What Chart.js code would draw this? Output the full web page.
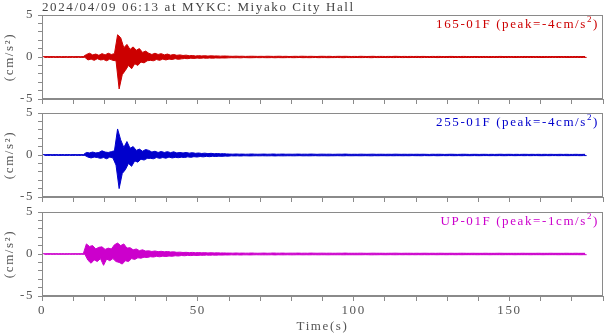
<!DOCTYPE html>
<html><head><meta charset="utf-8">
<script src="https://cdn.jsdelivr.net/npm/chart.js@4"></script>
<style>
html,body{margin:0;padding:0;background:#fff;width:605px;height:334px;overflow:hidden}
canvas{position:absolute;left:0}
</style></head><body>
<canvas id="c0" width="605" height="114" style="top:0px"></canvas>
<canvas id="c1" width="605" height="114" style="top:98px"></canvas>
<canvas id="c2" width="605" height="137" style="top:197px"></canvas>
<script>
// ---- text / categories ----
const TITLE = '2024/04/09 06:13 at MYKC: Miyako City Hall';
const channels = ['165-01F', '255-01F', 'UP-01F'];
const peaks = [-4, -4, -1];
const yAxisTitle = '(cm/s\u00B2)';
const xAxisTitle = 'Time(s)';
const xTickValues = [0,10,20,30,40,50,60,70,80,90,100,110,120,130,140,150,160,170,180];
const xTickLabelled = [0, 50, 100, 150];
const yTickValues = [-5,-4,-3,-2,-1,0,1,2,3,4,5];
const yTickLabelled = [-5, 0, 5];

// ---- per-second envelope (max / min) of each trace, t = 0..174 s ----
const redUp = [0.04,0.05,0.04,0.05,0.04,0.05,0.04,0.05,0.04,0.05,0.04,0.05,0.04,0.05,
 0.30,0.45,0.25,0.35,0.20,0.40,0.25,0.45,0.30,0.40,
 2.65,2.30,1.10,1.50,0.90,1.20,0.80,1.00,0.55,0.70,
 0.45,0.30,0.45,0.30,0.40,0.25,0.35,0.22,0.30,0.20,
 0.25,0.18,0.22,0.15,0.18,0.12,0.16,0.13,0.15,0.11,0.14,0.12,0.13,0.10,0.12,0.11,
 0.09,0.08,0.10,0.08,0.09,0.07,0.08,0.09,0.08,0.07,
 0.08,0.07,0.09,0.08,0.07,0.08,0.09,0.07,0.08,0.06,
 0.07,0.08,0.07,0.09,0.08,0.07,0.08,0.07,0.06,0.08,
 0.08,0.07,0.08,0.06,0.07,0.08,0.07,0.08,0.07,0.06,
 0.07,0.06,0.08,0.07,0.06,0.07,0.08,0.06,0.07,0.07,
 0.06,0.07,0.06,0.08,0.07,0.06,0.07,0.06,0.07,0.06,
 0.07,0.06,0.07,0.06,0.05,0.07,0.06,0.07,0.06,0.05,
 0.06,0.07,0.06,0.05,0.06,0.07,0.06,0.05,0.06,0.06,
 0.05,0.06,0.06,0.05,0.06,0.05,0.06,0.07,0.05,0.06,
 0.06,0.05,0.06,0.05,0.06,0.06,0.05,0.06,0.05,0.06,
 0.05,0.06,0.05,0.06,0.05,0.05,0.06,0.05,0.06,0.05,
 0.05,0.06,0.05,0.05,0.06];
const redLo = [-0.05,-0.04,-0.05,-0.04,-0.05,-0.04,-0.05,-0.04,-0.05,-0.04,-0.05,-0.04,-0.05,-0.04,
 -0.35,-0.25,-0.40,-0.20,-0.35,-0.30,-0.45,-0.25,-0.40,-0.45,
 -3.80,-2.10,-1.60,-1.00,-1.40,-0.80,-1.00,-0.60,-0.70,-0.45,
 -0.40,-0.45,-0.30,-0.40,-0.25,-0.35,-0.25,-0.30,-0.20,-0.28,
 -0.22,-0.18,-0.20,-0.14,-0.17,-0.13,-0.16,-0.12,-0.15,-0.12,-0.14,-0.11,-0.13,-0.11,-0.12,-0.10,
 -0.08,-0.09,-0.08,-0.10,-0.07,-0.08,-0.09,-0.08,-0.07,-0.08,
 -0.07,-0.08,-0.08,-0.07,-0.09,-0.07,-0.08,-0.08,-0.07,-0.07,
 -0.08,-0.07,-0.06,-0.08,-0.07,-0.08,-0.07,-0.06,-0.08,-0.07,
 -0.07,-0.08,-0.07,-0.07,-0.06,-0.07,-0.08,-0.06,-0.07,-0.07,
 -0.06,-0.07,-0.07,-0.06,-0.07,-0.08,-0.06,-0.07,-0.06,-0.06,
 -0.07,-0.06,-0.07,-0.06,-0.06,-0.07,-0.06,-0.07,-0.05,-0.06,
 -0.06,-0.07,-0.05,-0.06,-0.06,-0.05,-0.07,-0.06,-0.05,-0.06,
 -0.05,-0.06,-0.06,-0.05,-0.07,-0.05,-0.06,-0.06,-0.05,-0.06,
 -0.06,-0.05,-0.05,-0.06,-0.05,-0.06,-0.05,-0.06,-0.06,-0.05,
 -0.05,-0.06,-0.05,-0.05,-0.06,-0.05,-0.06,-0.05,-0.05,-0.06,
 -0.06,-0.05,-0.06,-0.05,-0.05,-0.06,-0.05,-0.05,-0.06,-0.05,
 -0.05,-0.05,-0.06,-0.05,-0.05];

const blueUp = [0.05,0.04,0.05,0.04,0.05,0.04,0.05,0.04,0.05,0.04,0.05,0.04,0.05,0.04,
 0.30,0.25,0.35,0.25,0.30,0.50,0.35,0.30,0.40,0.50,
 3.10,1.80,0.90,1.60,0.80,1.00,0.55,0.70,0.45,0.65,
 0.55,0.35,0.45,0.30,0.42,0.30,0.40,0.28,0.38,0.25,
 0.30,0.24,0.30,0.22,0.28,0.20,0.24,0.18,0.22,0.16,0.20,0.15,0.18,0.14,0.16,0.13,
 0.11,0.10,0.12,0.10,0.11,0.09,0.10,0.12,0.10,0.09,
 0.10,0.11,0.09,0.10,0.12,0.09,0.10,0.11,0.09,0.10,
 0.09,0.10,0.11,0.09,0.10,0.09,0.11,0.10,0.08,0.10,
 0.10,0.09,0.10,0.08,0.09,0.10,0.09,0.11,0.09,0.08,
 0.09,0.08,0.10,0.09,0.08,0.09,0.10,0.08,0.09,0.09,
 0.08,0.09,0.08,0.10,0.09,0.08,0.09,0.08,0.09,0.08,
 0.09,0.08,0.09,0.08,0.07,0.09,0.08,0.09,0.08,0.07,
 0.08,0.09,0.08,0.07,0.08,0.09,0.08,0.07,0.08,0.08,
 0.07,0.08,0.08,0.07,0.08,0.07,0.08,0.09,0.07,0.08,
 0.08,0.07,0.08,0.07,0.08,0.08,0.07,0.08,0.07,0.08,
 0.07,0.08,0.07,0.08,0.07,0.07,0.08,0.07,0.08,0.07,
 0.07,0.08,0.07,0.07,0.08];
const blueLo = [-0.04,-0.05,-0.04,-0.05,-0.04,-0.05,-0.04,-0.05,-0.04,-0.05,-0.04,-0.05,-0.04,-0.05,
 -0.25,-0.35,-0.25,-0.30,-0.40,-0.30,-0.45,-0.25,-0.35,-1.20,
 -4.00,-2.20,-1.75,-1.00,-1.35,-0.70,-0.85,-0.50,-0.60,-0.40,
 -0.40,-0.45,-0.30,-0.40,-0.30,-0.38,-0.25,-0.35,-0.28,-0.32,
 -0.26,-0.30,-0.22,-0.28,-0.20,-0.24,-0.18,-0.22,-0.16,-0.20,-0.15,-0.18,-0.14,-0.16,-0.13,-0.14,
 -0.10,-0.11,-0.10,-0.12,-0.09,-0.10,-0.11,-0.10,-0.09,-0.10,
 -0.09,-0.10,-0.10,-0.09,-0.11,-0.09,-0.10,-0.10,-0.09,-0.09,
 -0.10,-0.09,-0.08,-0.10,-0.09,-0.10,-0.09,-0.08,-0.10,-0.09,
 -0.09,-0.10,-0.09,-0.09,-0.08,-0.09,-0.10,-0.08,-0.09,-0.09,
 -0.08,-0.09,-0.09,-0.08,-0.09,-0.10,-0.08,-0.09,-0.08,-0.08,
 -0.09,-0.08,-0.09,-0.08,-0.08,-0.09,-0.08,-0.09,-0.07,-0.08,
 -0.08,-0.09,-0.07,-0.08,-0.08,-0.07,-0.09,-0.08,-0.07,-0.08,
 -0.07,-0.08,-0.08,-0.07,-0.09,-0.07,-0.08,-0.08,-0.07,-0.08,
 -0.08,-0.07,-0.07,-0.08,-0.07,-0.08,-0.07,-0.08,-0.08,-0.07,
 -0.07,-0.08,-0.07,-0.07,-0.08,-0.07,-0.08,-0.07,-0.07,-0.08,
 -0.08,-0.07,-0.08,-0.07,-0.07,-0.08,-0.07,-0.07,-0.08,-0.07,
 -0.07,-0.07,-0.08,-0.07,-0.07];

const magUp = [0.04,0.03,0.04,0.03,0.04,0.03,0.04,0.03,0.04,0.03,0.04,0.03,0.04,0.03,
 1.20,0.90,1.00,0.60,0.80,0.85,0.55,0.70,0.60,1.10,
 1.30,1.00,1.20,0.70,0.75,0.50,0.60,0.40,0.50,0.35,
 0.38,0.30,0.36,0.28,0.32,0.26,0.30,0.24,0.26,0.20,
 0.22,0.18,0.20,0.16,0.19,0.15,0.17,0.14,0.16,0.13,0.15,0.13,0.14,0.12,0.13,0.11,
 0.11,0.10,0.12,0.10,0.11,0.10,0.10,0.12,0.10,0.09,
 0.10,0.11,0.09,0.10,0.12,0.10,0.10,0.11,0.09,0.10,
 0.10,0.10,0.11,0.09,0.10,0.09,0.11,0.10,0.09,0.10,
 0.10,0.09,0.10,0.09,0.09,0.10,0.09,0.11,0.09,0.09,
 0.09,0.09,0.10,0.09,0.08,0.09,0.10,0.09,0.09,0.09,
 0.08,0.09,0.09,0.10,0.09,0.08,0.09,0.09,0.09,0.08,
 0.09,0.08,0.09,0.09,0.08,0.09,0.08,0.09,0.09,0.08,
 0.08,0.09,0.08,0.08,0.09,0.09,0.08,0.08,0.09,0.08,
 0.08,0.08,0.09,0.08,0.08,0.08,0.09,0.09,0.08,0.08,
 0.08,0.08,0.08,0.08,0.09,0.08,0.08,0.08,0.08,0.09,
 0.08,0.08,0.08,0.09,0.08,0.08,0.08,0.08,0.09,0.08,
 0.08,0.09,0.08,0.08,0.08];
const magLo = [-0.03,-0.04,-0.03,-0.04,-0.03,-0.04,-0.03,-0.04,-0.03,-0.04,-0.03,-0.04,-0.03,-0.04,
 -0.75,-1.10,-0.70,-0.90,-0.55,-1.35,-0.60,-0.80,-0.55,-0.90,
 -1.00,-1.20,-0.80,-0.90,-0.55,-0.65,-0.45,-0.50,-0.38,-0.42,
 -0.32,-0.36,-0.28,-0.33,-0.26,-0.30,-0.24,-0.27,-0.21,-0.24,
 -0.18,-0.21,-0.16,-0.19,-0.15,-0.18,-0.14,-0.16,-0.13,-0.15,-0.13,-0.14,-0.12,-0.13,-0.11,-0.12,
 -0.10,-0.11,-0.10,-0.12,-0.10,-0.10,-0.11,-0.10,-0.09,-0.10,
 -0.10,-0.10,-0.10,-0.09,-0.11,-0.09,-0.10,-0.10,-0.09,-0.10,
 -0.10,-0.09,-0.09,-0.10,-0.09,-0.10,-0.09,-0.09,-0.10,-0.09,
 -0.09,-0.10,-0.09,-0.09,-0.09,-0.09,-0.10,-0.09,-0.09,-0.09,
 -0.09,-0.09,-0.09,-0.08,-0.09,-0.10,-0.09,-0.09,-0.08,-0.09,
 -0.09,-0.08,-0.09,-0.09,-0.08,-0.09,-0.08,-0.09,-0.08,-0.09,
 -0.08,-0.09,-0.08,-0.09,-0.08,-0.08,-0.09,-0.08,-0.08,-0.09,
 -0.08,-0.08,-0.09,-0.08,-0.09,-0.08,-0.08,-0.08,-0.08,-0.09,
 -0.08,-0.08,-0.08,-0.09,-0.08,-0.08,-0.08,-0.09,-0.08,-0.08,
 -0.08,-0.09,-0.08,-0.08,-0.08,-0.08,-0.09,-0.08,-0.08,-0.08,
 -0.09,-0.08,-0.08,-0.08,-0.08,-0.09,-0.08,-0.08,-0.08,-0.08,
 -0.08,-0.08,-0.09,-0.08,-0.08];

const sampleTimes = redUp.map((_, i) => i); // one envelope sample per second

// ---- styles ----
const colors = ['#cc0000', '#0000cc', '#cc00cc'];
const GRAY = '#8a8a8a';
const TEXT = '#555555';
const FONT = '"Liberation Serif", "Times New Roman", serif';

function toPoints(vals, offset) {
  return sampleTimes.map((t, i) => ({x: t + offset, y: vals[i]}));
}
const envelopes = [[redUp, redLo], [blueUp, blueLo], [magUp, magLo]];

const spacingPlugin = {
  id: 'spacing',
  beforeUpdate(c) { c.ctx.letterSpacing = '1.6px'; },
  beforeDraw(c) { c.ctx.letterSpacing = '1.6px'; }
};

const decoPlugin = {
  id: 'deco',
  afterDraw(c, args, opts) {
    const {ctx, chartArea: a} = c;
    const i = opts.index;
    ctx.save();
    ctx.letterSpacing = '1.6px';
    ctx.strokeStyle = GRAY;
    ctx.lineWidth = 1;
    ctx.strokeRect(Math.round(a.left) + 0.5, Math.round(a.top) + 0.5,
                   Math.round(a.right - a.left) - 1, Math.round(a.bottom - a.top) - 1);
    ctx.fillStyle = colors[i];
    ctx.textAlign = 'right';
    ctx.textBaseline = 'alphabetic';
    let x = a.right - 4;
    const y = a.top + 13;
    ctx.font = '13px ' + FONT;
    ctx.fillText(')', x, y);
    x -= ctx.measureText(')').width;
    ctx.font = '9px ' + FONT;
    ctx.fillText('2', x, y - 6);
    x -= ctx.measureText('2').width;
    ctx.font = '13px ' + FONT;
    ctx.fillText(channels[i] + ' (peak=' + peaks[i] + 'cm/s', x, y);
    if (i === 0) {
      ctx.fillStyle = '#444444';
      ctx.textAlign = 'left';
      ctx.fillText(TITLE, a.left, a.top - 4);
    }
    ctx.restore();
  }
};

[0, 1, 2].forEach(i => {
  const last = i === 2;
  const [up, lo] = envelopes[i];
  new Chart(document.getElementById('c' + i), {
    type: 'line',
    data: {
      datasets: [{
        data: toPoints(up, 0.25),
        borderColor: colors[i],
        borderWidth: 1,
        pointRadius: 0,
        tension: 0,
        fill: false
      }, {
        data: toPoints(lo, 0.75),
        borderColor: colors[i],
        backgroundColor: colors[i],
        borderWidth: 1,
        pointRadius: 0,
        tension: 0,
        fill: '-1'
      }]
    },
    options: {
      responsive: false,
      animation: false,
      events: [],
      layout: {padding: {top: 15, right: 1, left: 0, bottom: 0}},
      plugins: {legend: {display: false}, tooltip: {enabled: false}, filler: {propagate: false}, deco: {index: i}},
      scales: {
        x: {
          type: 'linear', min: 0, max: 180,
          afterBuildTicks(s) { s.ticks = xTickValues.map(v => ({value: v})); },
          afterFit(s) { s.height = last ? 38 : 15; },
          ticks: {
            autoSkip: false, maxRotation: 0, padding: 2, color: TEXT,
            font: {family: FONT, size: 13},
            callback: v => (last && xTickLabelled.includes(v)) ? String(v) : ''
          },
          grid: {drawOnChartArea: false, drawTicks: true, tickLength: 5, color: GRAY},
          border: {display: true, color: GRAY},
          title: {display: last, text: xAxisTitle, color: TEXT,
                  font: {family: FONT, size: 13}, padding: {top: 0, bottom: 0}}
        },
        y: {
          min: -5, max: 5,
          afterBuildTicks(s) { s.ticks = yTickValues.map(v => ({value: v})); },
          afterFit(s) { s.width = 42; },
          ticks: {
            autoSkip: false, padding: 4, color: TEXT,
            font: {family: FONT, size: 13},
            callback: v => yTickLabelled.includes(v) ? String(v) : ''
          },
          grid: {drawOnChartArea: false, drawTicks: true, tickLength: 4, color: GRAY},
          border: {display: true, color: GRAY},
          title: {display: true, text: yAxisTitle, color: TEXT,
                  font: {family: FONT, size: 13}, padding: {top: 2, bottom: 0}}
        }
      }
    },
    plugins: [spacingPlugin, decoPlugin]
  });
});
</script>
</body></html>
